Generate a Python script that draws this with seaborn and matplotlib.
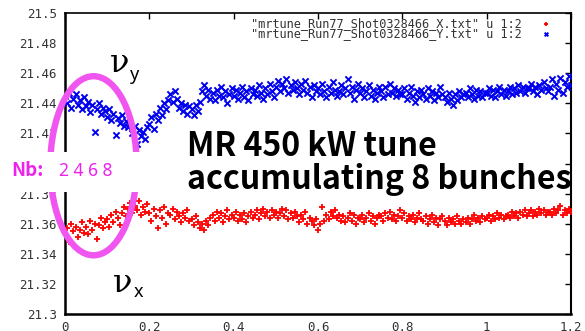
import numpy as np
import pandas as pd
import matplotlib
matplotlib.use("Agg")
import matplotlib.pyplot as plt
from matplotlib.patches import Ellipse, Rectangle
import seaborn as sns

# ---------------- data ----------------
t_step = 0.005  # sample spacing in x (time, s)

tune_y = [
    21.445, 21.440, 21.447, 21.437, 21.443, 21.446, 21.439, 21.442, 21.436, 21.444,
    21.438, 21.441, 21.434, 21.439, 21.421, 21.436, 21.440, 21.433, 21.437, 21.435,
    21.431, 21.436, 21.429, 21.433, 21.419, 21.430, 21.427, 21.432, 21.425, 21.428,
    21.424, 21.427, 21.420, 21.425, 21.413, 21.422, 21.418, 21.421, 21.416, 21.424,
    21.426, 21.431, 21.423, 21.433, 21.429, 21.437, 21.432, 21.440, 21.436, 21.442,
    21.446, 21.441, 21.448, 21.443, 21.437, 21.440, 21.435, 21.439, 21.433, 21.438,
    21.436, 21.432, 21.439, 21.435, 21.441, 21.448, 21.452, 21.445, 21.449, 21.443,
    21.447, 21.442, 21.449, 21.445, 21.451, 21.444, 21.448, 21.440, 21.446, 21.450,
    21.445, 21.449, 21.443, 21.447, 21.451, 21.444, 21.448, 21.442, 21.450, 21.446,
    21.449, 21.445, 21.452, 21.447, 21.443, 21.450, 21.446, 21.453, 21.448, 21.444,
    21.451, 21.455, 21.448, 21.453, 21.450, 21.456, 21.447, 21.452, 21.449, 21.454,
    21.450, 21.446, 21.453, 21.449, 21.455, 21.447, 21.451, 21.444, 21.452, 21.448,
    21.450, 21.446, 21.453, 21.448, 21.444, 21.451, 21.447, 21.454, 21.449, 21.445,
    21.448, 21.452, 21.446, 21.450, 21.456, 21.447, 21.451, 21.443, 21.449, 21.453,
    21.447, 21.450, 21.444, 21.448, 21.452, 21.445, 21.449, 21.443, 21.447, 21.451,
    21.448, 21.444, 21.451, 21.446, 21.453, 21.447, 21.450, 21.445, 21.449, 21.446,
    21.446, 21.450, 21.443, 21.447, 21.451, 21.445, 21.441, 21.448, 21.444, 21.449,
    21.446, 21.443, 21.450, 21.445, 21.448, 21.442, 21.447, 21.444, 21.451, 21.446,
    21.444, 21.441, 21.447, 21.443, 21.439, 21.446, 21.442, 21.448, 21.444, 21.446,
    21.447, 21.444, 21.450, 21.446, 21.443, 21.449, 21.445, 21.448, 21.444, 21.447,
    21.447, 21.450, 21.445, 21.449, 21.444, 21.448, 21.451, 21.446, 21.449, 21.445,
    21.448, 21.451, 21.446, 21.450, 21.447, 21.452, 21.448, 21.451, 21.447, 21.450,
    21.450, 21.453, 21.448, 21.451, 21.446, 21.452, 21.449, 21.454, 21.450, 21.448,
    21.451, 21.456, 21.445, 21.453, 21.449, 21.457, 21.447, 21.454, 21.451, 21.458,
    21.452,
]

tune_x = [
    21.352, 21.357, 21.348, 21.360, 21.355, 21.358, 21.351, 21.356, 21.361, 21.354,
    21.358, 21.353, 21.362, 21.356, 21.360, 21.350, 21.359, 21.364, 21.357, 21.361,
    21.363, 21.358, 21.366, 21.361, 21.368, 21.364, 21.359, 21.367, 21.371, 21.365,
    21.370, 21.374, 21.367, 21.372, 21.369, 21.375, 21.366, 21.371, 21.368, 21.373,
    21.367, 21.362, 21.370, 21.365, 21.357, 21.369, 21.364, 21.371, 21.360, 21.367,
    21.366, 21.370, 21.363, 21.368, 21.365, 21.361, 21.367, 21.364, 21.369, 21.362,
    21.363, 21.359, 21.365, 21.361, 21.357, 21.360, 21.356, 21.362, 21.359, 21.364,
    21.366, 21.362, 21.368, 21.364, 21.367, 21.361, 21.365, 21.369, 21.363, 21.366,
    21.364, 21.368, 21.362, 21.366, 21.363, 21.367, 21.361, 21.365, 21.368, 21.364,
    21.366, 21.369, 21.363, 21.367, 21.370, 21.365, 21.368, 21.364, 21.369, 21.366,
    21.368, 21.364, 21.367, 21.370, 21.365, 21.369, 21.363, 21.367, 21.364, 21.368,
    21.365, 21.361, 21.366, 21.363, 21.368, 21.360, 21.364, 21.362, 21.359, 21.363,
    21.356, 21.360, 21.371, 21.362, 21.366, 21.363, 21.368, 21.365, 21.369, 21.364,
    21.366, 21.362, 21.365, 21.361, 21.364, 21.367, 21.362, 21.366, 21.360, 21.364,
    21.363, 21.366, 21.361, 21.364, 21.367, 21.362, 21.365, 21.360, 21.364, 21.366,
    21.365, 21.362, 21.367, 21.364, 21.368, 21.363, 21.366, 21.362, 21.365, 21.369,
    21.364, 21.367, 21.362, 21.365, 21.363, 21.366, 21.361, 21.364, 21.367, 21.363,
    21.362, 21.365, 21.360, 21.363, 21.366, 21.361, 21.364, 21.359, 21.363, 21.365,
    21.362, 21.359, 21.364, 21.361, 21.363, 21.360, 21.365, 21.362, 21.360, 21.363,
    21.361, 21.364, 21.360, 21.363, 21.366, 21.362, 21.364, 21.361, 21.365, 21.363,
    21.364, 21.366, 21.362, 21.365, 21.363, 21.367, 21.364, 21.366, 21.363, 21.365,
    21.366, 21.364, 21.368, 21.365, 21.367, 21.364, 21.368, 21.366, 21.369, 21.365,
    21.367, 21.369, 21.365, 21.368, 21.366, 21.370, 21.367, 21.369, 21.366, 21.368,
    21.368, 21.366, 21.370, 21.367, 21.369, 21.372, 21.366, 21.369, 21.367, 21.370,
    21.368,
]

x_ticks = [0, 0.2, 0.4, 0.6, 0.8, 1, 1.2]
x_tick_labels = ["0", "0.2", "0.4", "0.6", "0.8", "1", "1.2"]
y_ticks = [21.3, 21.32, 21.34, 21.36, 21.38, 21.4, 21.42, 21.44, 21.46, 21.48, 21.5]
y_tick_labels = ["21.3", "21.32", "21.34", "21.36", "21.38", "21.4",
                 "21.42", "21.44", "21.46", "21.48", "21.5"]

label_x = '"mrtune_Run77_Shot0328466_X.txt" u 1:2'
label_y = '"mrtune_Run77_Shot0328466_Y.txt" u 1:2'
title1 = "MR 450 kW tune"
title2 = "accumulating 8 bunches"
nb_label = "Nb:"
nb_values = "2 4 6 8"

time_x = np.arange(len(tune_x)) * t_step
time_y = np.arange(len(tune_y)) * t_step
df_x = pd.DataFrame({"t": time_x, "tune": tune_x})
df_y = pd.DataFrame({"t": time_y, "tune": tune_y})

# ---------------- figure ----------------
sns.set_theme(style="white")
W, H = 585, 331
fig = plt.figure(figsize=(W / 100, H / 100), dpi=100)
ax_l, ax_r, ax_t, ax_b = 65, 571, 13, 314
ax = fig.add_axes([ax_l / W, 1 - ax_b / H, (ax_r - ax_l) / W, (ax_b - ax_t) / H])
ax.set_facecolor("white")

sns.scatterplot(data=df_x, x="t", y="tune", ax=ax, marker="+", color="#ff0000",
                s=22, linewidth=1.3, label=label_x, zorder=3)
sns.scatterplot(data=df_y, x="t", y="tune", ax=ax, marker="x", color="#0000ee",
                s=20, linewidth=1.4, label=label_y, zorder=3)

ax.set_xlim(0, 1.2)
ax.set_ylim(21.3, 21.5)
ax.set_xticks(x_ticks)
ax.set_xticklabels(x_tick_labels)
ax.set_yticks(y_ticks)
ax.set_yticklabels(y_tick_labels)
ax.set_xlabel("")
ax.set_ylabel("")
mono = "DejaVu Sans Mono"
for lab in ax.get_xticklabels() + ax.get_yticklabels():
    lab.set_family(mono)
    lab.set_fontsize(9)
    lab.set_color("#333333")
ax.tick_params(direction="in", length=4, width=1, top=True, right=True,
               colors="black", labelcolor="#333333")
ax.tick_params(axis="y", pad=6)
ax.tick_params(axis="x", pad=5)
for side in ["left", "bottom", "top", "right"]:
    ax.spines[side].set_color("black")
    ax.spines[side].set_linewidth(1.2)
ax.spines["left"].set_linewidth(1.8)
ax.spines["bottom"].set_linewidth(1.8)
ax.spines["right"].set_linewidth(1.5)
ax.grid(False)

leg = ax.legend(loc="upper right", bbox_to_anchor=(0.974, 0.995), frameon=False,
                markerfirst=False, prop={"family": mono, "size": 8.6},
                labelspacing=-0.25, handlelength=1.6, handletextpad=1.2,
                borderaxespad=0.0, borderpad=0.2, markerscale=0.6)
for txt in leg.get_texts():
    txt.set_color("#333333")

# ---------------- overlay annotations ----------------
def fx(px):
    return px / W


def fy(py):
    return 1 - py / H


# white box that hides part of the left axis (pasted text block)
fig.patches.append(Rectangle((0, fy(192)), fx(556), (192 - 152) / H,
                             transform=fig.transFigure, facecolor="white",
                             edgecolor="none", zorder=5))

# magenta ellipse (in data coords)
ell = Ellipse((0.0676, 21.3985), width=0.205, height=0.119, fill=False,
              edgecolor="#f055f0", linewidth=4.6, clip_on=False, zorder=6)
ax.add_patch(ell)

cjk = ["Noto Sans CJK JP", "DejaVu Sans"]
fig.text(fx(187), fy(146), title1, family=cjk, weight="bold", fontsize=23.2,
         color="black", va="center", ha="left", zorder=10)
fig.text(fx(187), fy(180), title2, family=cjk, weight="bold", fontsize=23.2,
         color="black", va="center", ha="left", zorder=10)
fig.text(fx(11), fy(171), nb_label, family=cjk, weight="bold", fontsize=13.5,
         color="#ee22ee", va="center", ha="left", zorder=10)
fig.text(fx(59), fy(171), nb_values, family="Noto Sans", fontsize=12.5,
         color="#ee22ee", va="center", ha="left", zorder=10)

# nu_y and nu_x
fig.text(fx(110), fy(64), "ν", family="DejaVu Serif", fontsize=23,
         color="black", va="center", ha="left", zorder=10)
fig.text(fx(130), fy(75), "y", family="Noto Sans", fontsize=13,
         color="black", va="center", ha="left", zorder=10)
fig.text(fx(113), fy(283), "ν", family="DejaVu Serif", fontsize=23,
         color="black", va="center", ha="left", zorder=10)
fig.text(fx(134), fy(292), "x", family="Noto Sans", fontsize=13,
         color="black", va="center", ha="left", zorder=10)

fig.savefig("out.png", dpi=100, facecolor="white")
